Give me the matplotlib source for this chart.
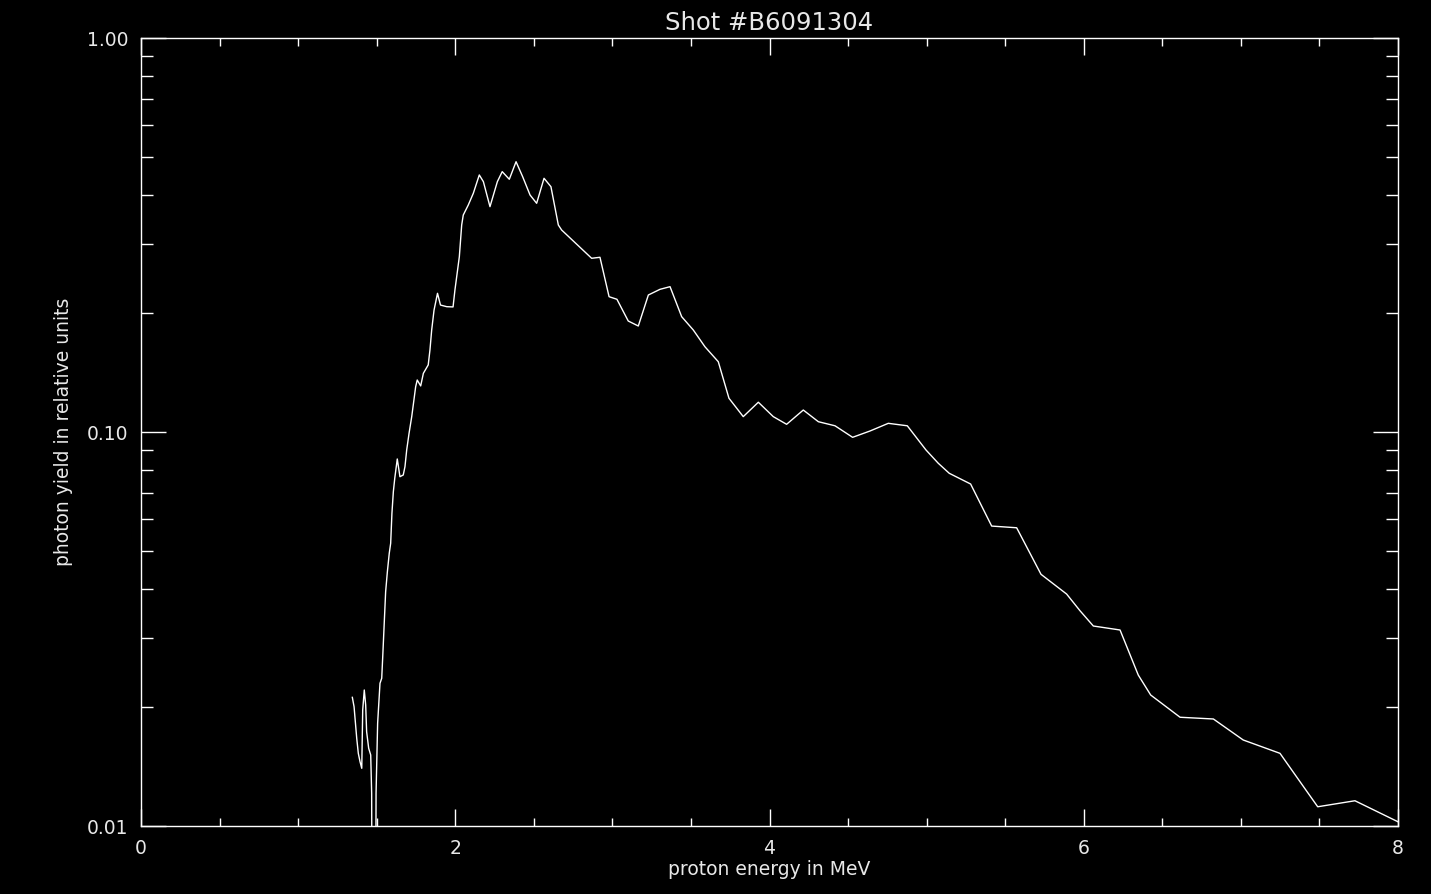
"""
  plot.py

  Proton spectrum (photon yield vs proton energy) for shot #B6091304,
  drawn in the old IDL look: white on black, log y axis.
"""

import matplotlib
matplotlib.use('Agg')
import matplotlib.pyplot as plt
import matplotlib.ticker as tic
import numpy as np

fOut = 'out.png'
title = 'Shot #B6091304'
xLabel = 'proton energy in MeV'
yLabel = 'photon yield in relative units'

# energies in MeV
energy = [1.345, 1.356, 1.373, 1.383, 1.394, 1.405, 1.411, 1.421, 1.430, 1.436,
          1.449, 1.462, 1.468, 1.481, 1.496, 1.506, 1.521, 1.532, 1.538, 1.547,
          1.557, 1.568, 1.580, 1.589, 1.597, 1.606, 1.615, 1.631, 1.648, 1.669,
          1.680, 1.691, 1.706, 1.723, 1.737, 1.748, 1.758, 1.780, 1.797, 1.828,
          1.839, 1.850, 1.865, 1.887, 1.906, 1.946, 1.986, 1.998, 2.026, 2.041,
          2.051, 2.083, 2.115, 2.153, 2.179, 2.221, 2.268, 2.299, 2.344, 2.387,
          2.429, 2.476, 2.518, 2.565, 2.609, 2.656, 2.677, 2.868, 2.921, 2.979,
          3.029, 3.101, 3.165, 3.229, 3.303, 3.367, 3.441, 3.515, 3.589, 3.674,
          3.742, 3.833, 3.929, 4.024, 4.109, 4.215, 4.311, 4.417, 4.529, 4.640,
          4.756, 4.877, 4.996, 5.074, 5.144, 5.280, 5.414, 5.573, 5.728, 5.891,
          5.976, 6.061, 6.231, 6.347, 6.426, 6.613, 6.825, 7.015, 7.249, 7.489,
          7.726, 8.000]

# photon yield, relative units
yieldRel = [0.02121, 0.02008, 0.01669, 0.01529, 0.01456, 0.01401, 0.01970, 0.02214, 0.02028, 0.01735,
            0.01575, 0.01514, 0.01211, 0.0001, 0.01211, 0.01823, 0.02302, 0.02371, 0.02665, 0.03205,
            0.03932, 0.04420, 0.04922, 0.05218, 0.06218, 0.07055, 0.07629, 0.08541, 0.07701, 0.07778,
            0.08166, 0.09002, 0.09924, 0.1094, 0.1206, 0.1303, 0.1355, 0.1309, 0.1409, 0.1480,
            0.1615, 0.1815, 0.2039, 0.2249, 0.2100, 0.2080, 0.2077, 0.2293, 0.2786, 0.3353,
            0.3554, 0.3769, 0.4035, 0.4491, 0.4319, 0.3732, 0.4319, 0.4579, 0.4380, 0.4853,
            0.4446, 0.3995, 0.3806, 0.4405, 0.4194, 0.3353, 0.3256, 0.2760, 0.2776, 0.2205,
            0.2172, 0.1913, 0.1858, 0.2227, 0.2302, 0.2338, 0.1962, 0.1815, 0.1646, 0.1508,
            0.1218, 0.1094, 0.1190, 0.1094, 0.1046, 0.1137, 0.1062, 0.1037, 0.09694, 0.1006,
            0.1052, 0.1037, 0.09002, 0.08331, 0.07856, 0.07379, 0.05771, 0.05714, 0.04353, 0.03879,
            0.03519, 0.03218, 0.03144, 0.02416, 0.02150, 0.01888, 0.01869, 0.01653, 0.01529, 0.01119,
            0.01159, 0.01025]

xTicks = [0, 2, 4, 6, 8]
yTicks = [0.01, 0.1, 1.0]
yTickLabels = ['0.01', '0.10', '1.00']

fg = 'white'
txt = '#e8e8e8'
plt.rcParams['font.family'] = ['DejaVu Sans']

fig = plt.figure(figsize=(14.31, 8.94), dpi=100, facecolor='black')
ax = fig.add_axes([141/1431, 1 - 826/894, (1398 - 141)/1431, (826 - 38)/894])
ax.set_facecolor('black')

ax.plot(energy, yieldRel, color=fg, lw=1.0)

ax.set_yscale('log')
ax.set_xlim(0, 8)
ax.set_ylim(0.01, 1.0)

ax.set_xticks(xTicks)
ax.set_xticklabels([str(v) for v in xTicks])
ax.xaxis.set_minor_locator(tic.MultipleLocator(0.5))
ax.set_yticks(yTicks)
ax.set_yticklabels(yTickLabels)
ax.yaxis.set_minor_locator(tic.LogLocator(base=10, subs=np.arange(2, 10)))
ax.yaxis.set_minor_formatter(tic.NullFormatter())

# ticks inward on all four sides, IDL style
ax.tick_params(axis='x', which='major', direction='in', length=12.2, width=1.0,
               top=True, bottom=True, colors=fg, labelcolor=txt, labelsize=13.5, pad=9)
ax.tick_params(axis='x', which='minor', direction='in', length=5.8, width=1.0,
               top=True, bottom=True, colors=fg)
ax.tick_params(axis='y', which='major', direction='in', length=18, width=1.0,
               left=True, right=True, colors=fg, labelcolor=txt, labelsize=13.5, pad=9)
ax.tick_params(axis='y', which='minor', direction='in', length=8.6, width=1.0,
               left=True, right=True, colors=fg)

for sp in ax.spines.values():
  sp.set_color(fg)
  sp.set_linewidth(1.0)

ax.set_xlabel(xLabel, color=txt, fontsize=13.5, labelpad=2)
ax.set_ylabel(yLabel, color=txt, fontsize=13.5, labelpad=10)
ax.set_title(title, color=txt, fontsize=17.5, pad=6)

fig.savefig(fOut, dpi=100, facecolor='black')
